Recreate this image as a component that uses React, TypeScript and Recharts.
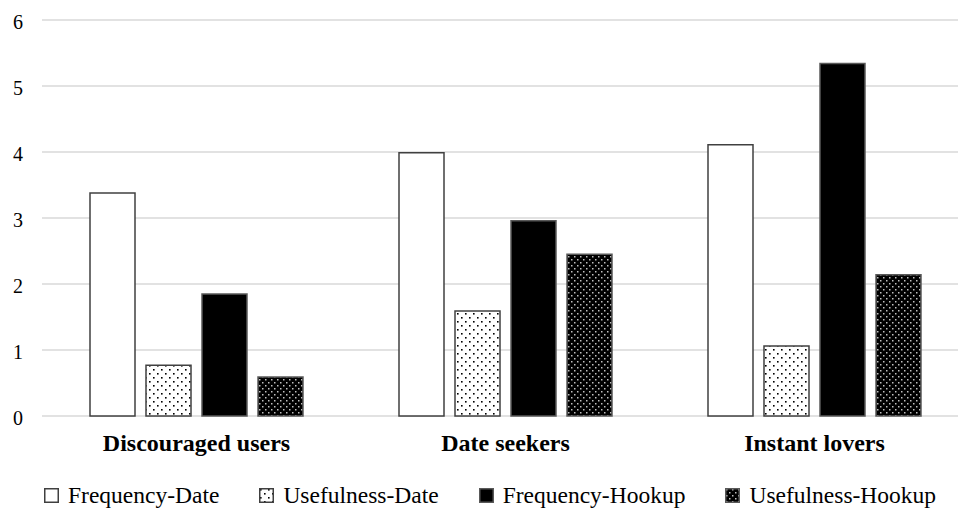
import React from 'react';
import { BarChart, Bar, XAxis, YAxis, CartesianGrid, Legend } from 'recharts';

const categories = ['Discouraged users', 'Date seekers', 'Instant lovers'];
const frequencyDate = [3.38, 3.99, 4.11];
const usefulnessDate = [0.77, 1.59, 1.06];
const frequencyHookup = [1.85, 2.96, 5.34];
const usefulnessHookup = [0.59, 2.45, 2.14];
const yTicks = [0, 1, 2, 3, 4, 5, 6];

const seriesNames = ['Frequency-Date', 'Usefulness-Date', 'Frequency-Hookup', 'Usefulness-Hookup'];
const seriesKeys = ['fd', 'ud', 'fh', 'uh'];
const seriesFills = ['#ffffff', 'url(#dotsLight)', '#000000', 'url(#dotsDark)'];
const seriesStrokes = ['#404040', '#404040', '#595959', '#595959'];

const data = categories.map((c, i) => ({
  name: c,
  fd: frequencyDate[i],
  ud: usefulnessDate[i],
  fh: frequencyHookup[i],
  uh: usefulnessHookup[i],
}));

const FONT = 'Liberation Serif';

const CustomLegend = () => {
  return (
    <div
      style={{
        display: 'flex',
        alignItems: 'center',
        height: 40,
        paddingTop: 13,
        boxSizing: 'border-box',
        paddingLeft: 44,
        fontFamily: FONT,
        fontSize: 23.5,
        color: '#000',
        whiteSpace: 'nowrap',
      }}
    >
      {seriesKeys.map((k, i) => (
        <div key={k} style={{ display: 'flex', alignItems: 'center', marginRight: i < seriesKeys.length - 1 ? 40 : 0 }}>
          <svg width={15} height={15} style={{ marginRight: 9, display: 'block' }}>
            <rect
              x={0.75}
              y={0.75}
              width={13.5}
              height={13.5}
              fill={seriesFills[i]}
              stroke={seriesStrokes[i]}
              strokeWidth={1.5}
            />
          </svg>
          <span>{seriesNames[i]}</span>
        </div>
      ))}
    </div>
  );
};

export default function App() {
  return (
    <div
      style={{
        position: 'fixed',
        left: 0,
        top: 0,
        width: 958,
        height: 509,
        overflow: 'hidden',
        background: '#fff',
        fontFamily: FONT,
      }}
    >
      <BarChart
        width={980}
        height={509}
        data={data}
        margin={{ top: 20, right: 11, left: 0, bottom: 0 }}
        barSize={45}
        barGap={11}
        style={{ fontFamily: FONT }}
      >
        <defs>
          <pattern id="dotsLight" width={8} height={8} patternUnits="userSpaceOnUse">
            <rect width={8} height={8} fill="#ffffff" />
            <rect x={1} y={1} width={1.6} height={1.6} fill="#000" />
            <rect x={5} y={5} width={1.6} height={1.6} fill="#000" />
          </pattern>
          <pattern id="dotsDark" width={6} height={6} patternUnits="userSpaceOnUse">
            <rect width={6} height={6} fill="#000000" />
            <rect x={1} y={1} width={1.5} height={1.5} fill="#bfbfbf" />
            <rect x={4} y={4} width={1.5} height={1.5} fill="#bfbfbf" />
          </pattern>
        </defs>
        <CartesianGrid vertical={false} stroke="#d9d9d9" strokeWidth={1.5} />
        <XAxis
          dataKey="name"
          axisLine={false}
          tickLine={false}
          tickSize={0}
          tickMargin={18}
          height={53}
          interval={0}
          tick={{ fontFamily: FONT, fontSize: 24, fontWeight: 'bold', fill: '#000' }}
        />
        <YAxis
          domain={[0, 6]}
          ticks={yTicks}
          axisLine={false}
          tickLine={false}
          tickSize={0}
          tickMargin={19}
          width={42}
          interval={0}
          tick={{ fontFamily: FONT, fontSize: 20, fill: '#000', dy: 2 }}
        />
        <Legend
          verticalAlign="bottom"
          align="left"
          content={<CustomLegend />}
          wrapperStyle={{ left: 0, width: 958 }}
        />
        {seriesKeys.map((k, i) => (
          <Bar
            key={k}
            dataKey={k}
            name={seriesNames[i]}
            fill={seriesFills[i]}
            stroke={seriesStrokes[i]}
            strokeWidth={1.5}
            isAnimationActive={false}
          />
        ))}
      </BarChart>
    </div>
  );
}
